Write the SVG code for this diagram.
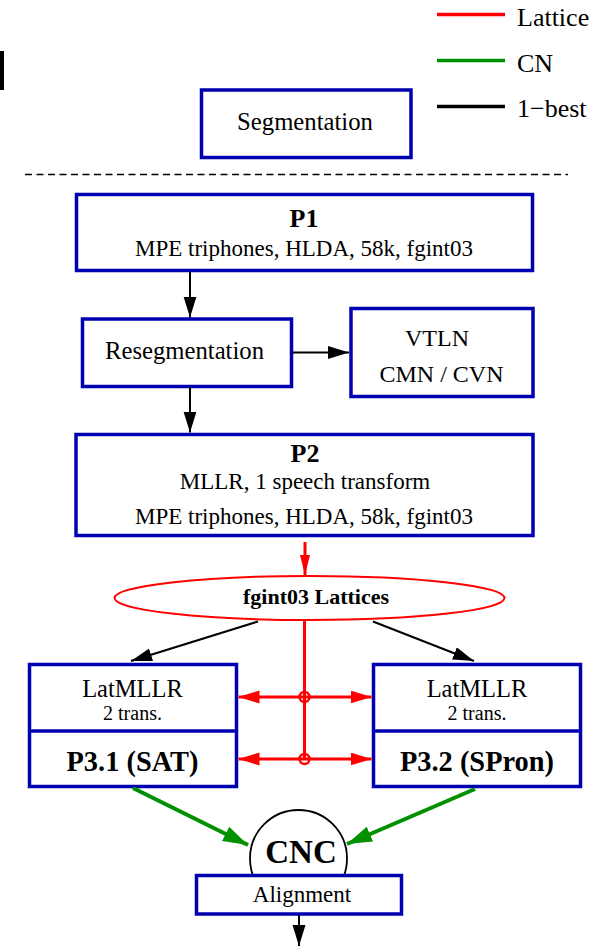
<svg xmlns="http://www.w3.org/2000/svg" width="609" height="946" viewBox="0 0 609 946">
<style>
.box{fill:#fff;stroke:#0000b0;stroke-width:3.5}
.t{font-family:"Liberation Serif","Times New Roman",serif;fill:#000;text-anchor:middle}
.b{font-weight:bold}
.blk{stroke:#000;stroke-width:2;fill:none}
.red{stroke:#ff0000;stroke-width:3;fill:none}
.grn{stroke:#009000;stroke-width:4;fill:none}
</style>
<defs>
<marker id="ak" markerUnits="userSpaceOnUse" markerWidth="22" markerHeight="14" refX="21" refY="6.5" orient="auto"><path d="M0,0 L21,6.5 L0,13 z" fill="#000"/></marker>
<marker id="ar" markerUnits="userSpaceOnUse" markerWidth="22" markerHeight="14" refX="21" refY="6.5" orient="auto-start-reverse"><path d="M0,0 L21,6.5 L0,13 z" fill="#ff0000"/></marker>
<marker id="ar2" markerUnits="userSpaceOnUse" markerWidth="22" markerHeight="12" refX="20" refY="5" orient="auto"><path d="M0,0 L20,5 L0,10 z" fill="#ff0000"/></marker>
<marker id="ag" markerUnits="userSpaceOnUse" markerWidth="26" markerHeight="18" refX="25" refY="8" orient="auto"><path d="M0,0 L25,8 L0,16 z" fill="#009000"/></marker>
</defs>

<g id="legend">
<line x1="437" y1="14.5" x2="505" y2="14.5" stroke="#ff0000" stroke-width="3.5"/>
<text class="t" x="517" y="26" font-size="26" text-anchor="start" style="text-anchor:start">Lattice</text>
<line x1="437" y1="60.5" x2="505" y2="60.5" stroke="#009000" stroke-width="3.5"/>
<text class="t" x="517" y="71.5" font-size="26" style="text-anchor:start">CN</text>
<line x1="437" y1="106.5" x2="505" y2="106.5" stroke="#000" stroke-width="3.5"/>
<text class="t" x="517" y="117" font-size="26" style="text-anchor:start">1−best</text>
</g>

<rect x="0" y="51" width="4" height="39" fill="#000"/>

<g id="segmentation">
<rect class="box" x="201.5" y="90" width="209.5" height="67.5"/>
<text class="t" x="305" y="130" font-size="24.7">Segmentation</text>
</g>

<line x1="25" y1="174.5" x2="568" y2="174.5" stroke="#000" stroke-width="1.5" stroke-dasharray="7 4.5"/>

<g id="p1">
<rect class="box" x="76.5" y="194.5" width="456" height="76"/>
<text class="t b" x="304" y="226.5" font-size="26">P1</text>
<text class="t" x="304" y="256" font-size="23">MPE triphones, HLDA, 58k, fgint03</text>
</g>

<g id="resegmentation">
<rect class="box" x="82.5" y="319" width="209" height="67.5"/>
<text class="t" x="184.5" y="359" font-size="24.7">Resegmentation</text>
</g>

<g id="vtln">
<rect class="box" x="351" y="308.5" width="182" height="88"/>
<text class="t" x="437" y="346" font-size="24">VTLN</text>
<text class="t" x="441.5" y="381.5" font-size="24">CMN / CVN</text>
</g>

<g id="p2">
<rect class="box" x="76" y="434.5" width="457" height="101"/>
<text class="t b" x="305" y="461.5" font-size="26">P2</text>
<text class="t" x="305" y="489" font-size="23">MLLR, 1 speech transform</text>
<text class="t" x="304" y="524" font-size="23">MPE triphones, HLDA, 58k, fgint03</text>
</g>

<g id="lattices">
<ellipse cx="309.5" cy="598" rx="195" ry="22" fill="#fff" stroke="#ff0000" stroke-width="2"/>
<text class="t b" x="316" y="604" font-size="22">fgint03 Lattices</text>
</g>

<g id="p31">
<rect class="box" x="29.5" y="664.5" width="207" height="122"/>
<line x1="29.5" y1="731" x2="236.5" y2="731" stroke="#0000b0" stroke-width="3.5"/>
<text class="t" x="132.5" y="696.5" font-size="24.5">LatMLLR</text>
<text class="t" x="132.5" y="719.5" font-size="20">2 trans.</text>
<text class="t b" x="132.5" y="771" font-size="28.4">P3.1 (SAT)</text>
</g>

<g id="p32">
<rect class="box" x="373.5" y="664.5" width="207" height="122"/>
<line x1="373.5" y1="731" x2="580.5" y2="731" stroke="#0000b0" stroke-width="3.5"/>
<text class="t" x="477" y="696.5" font-size="24.5">LatMLLR</text>
<text class="t" x="477" y="719.5" font-size="20">2 trans.</text>
<text class="t b" x="477" y="771" font-size="28.4">P3.2 (SPron)</text>
</g>

<g id="cnc">
<circle cx="298.5" cy="858.5" r="48.5" fill="#fff" stroke="#000" stroke-width="1.8"/>
<text class="t b" x="301" y="862.5" font-size="33">CNC</text>
</g>

<g id="alignment">
<rect class="box" x="196.5" y="875.5" width="205" height="38.5"/>
<text class="t" x="302" y="901.5" font-size="23">Alignment</text>
</g>

<g id="connectors">
<line class="blk" x1="190" y1="272" x2="190" y2="317.5" marker-end="url(#ak)"/>
<line class="blk" x1="292" y1="352.5" x2="349" y2="352.5" marker-end="url(#ak)"/>
<line class="blk" x1="190" y1="387" x2="190" y2="432.5" marker-end="url(#ak)"/>
<line class="red" x1="305" y1="542" x2="305" y2="575" marker-end="url(#ar2)"/>
<line class="blk" x1="258" y1="621.5" x2="131" y2="661" marker-end="url(#ak)"/>
<line class="blk" x1="373" y1="621.5" x2="474" y2="661" marker-end="url(#ak)"/>
<line class="red" x1="304.5" y1="620" x2="304.5" y2="759"/>
<line class="red" x1="238.5" y1="697" x2="371.5" y2="697" marker-start="url(#ar)" marker-end="url(#ar)"/>
<line class="red" x1="238.5" y1="759" x2="371.5" y2="759" marker-start="url(#ar)" marker-end="url(#ar)"/>
<circle cx="304.5" cy="697" r="5" fill="none" stroke="#ff0000" stroke-width="2.5"/>
<circle cx="304.5" cy="759" r="5" fill="none" stroke="#ff0000" stroke-width="2.5"/>
<line class="grn" x1="133" y1="788" x2="248" y2="845" marker-end="url(#ag)"/>
<line class="grn" x1="475" y1="789" x2="347" y2="844" marker-end="url(#ag)"/>
<line class="blk" x1="299" y1="915" x2="299" y2="946" marker-end="url(#ak)"/>
</g>
</svg>
